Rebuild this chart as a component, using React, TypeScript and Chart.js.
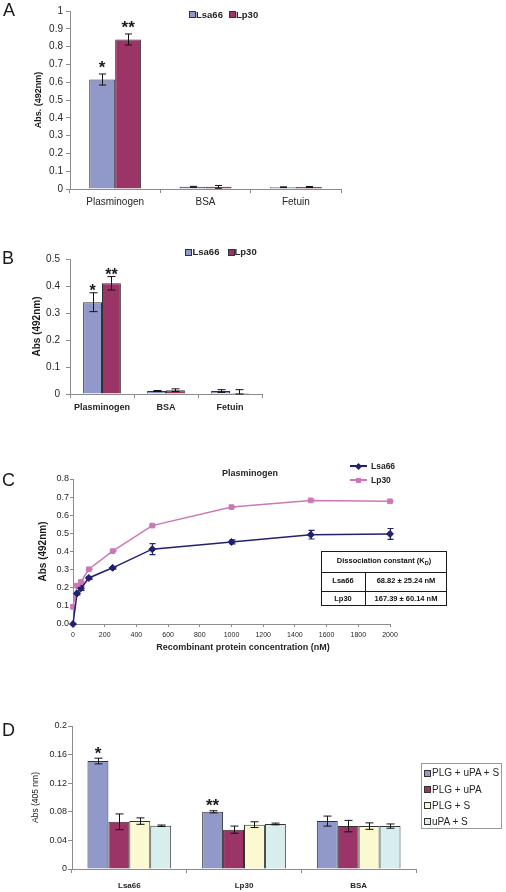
import React, { useEffect, useRef } from 'react';
import { Chart, registerables } from 'chart.js';

Chart.register(...registerables);

const FONT = "'Liberation Sans', Arial, Helvetica, sans-serif";
const W = 506;
const AXIS = '#8c8c8c';
const TEXT = '#262626';

// ---------------- Panel A ----------------
const categoriesA = ['Plasminogen', 'BSA', 'Fetuin'];
const lsa66A = [0.615, 0.012, 0.010];
const lsa66ErrA = [0.031, 0.003, 0.002];
const lp30A = [0.84, 0.012, 0.011];
const lp30ErrA = [0.031, 0.008, 0.003];
const lsa66StarsA = ['*', '', ''];
const lp30StarsA = ['**', '', ''];

// ---------------- Panel B ----------------
const categoriesB = ['Plasminogen', 'BSA', 'Fetuin'];
const lsa66B = [0.34, 0.011, 0.011];
const lsa66ErrB = [0.035, 0.002, 0.005];
const lp30B = [0.41, 0.014, 0.004];
const lp30ErrB = [0.025, 0.005, 0.012];
const lsa66StarsB = ['*', '', ''];
const lp30StarsB = ['**', '', ''];

// ---------------- Panel C ----------------
const concentrationsC = [0, 25, 50, 100, 250, 500, 1000, 1500, 2000];
const lsa66C = [0, 0.168, 0.197, 0.254, 0.31, 0.413, 0.453, 0.493, 0.497];
const lsa66ErrC = [0, 0.008, 0.012, 0.008, 0.007, 0.03, 0.011, 0.024, 0.03];
const lp30C = [0.095, 0.212, 0.232, 0.302, 0.402, 0.543, 0.645, 0.682, 0.677];
const lp30ErrC = [0, 0.003, 0.003, 0.003, 0.003, 0.003, 0.003, 0.003, 0.003];
const kdNames = ['Lsa66', 'Lp30'];
const kdValues = ['68.82 \u00b1 25.24 nM', '167.39 \u00b1 60.14 nM'];

// ---------------- Panel D ----------------
const categoriesD = ['Lsa66', 'Lp30', 'BSA'];
const seriesNamesD = ['PLG + uPA + S', 'PLG + uPA', 'PLG + S', 'uPA + S'];
const plgUpaSD = [0.151, 0.080, 0.067];
const plgUpaSErrD = [0.004, 0.0015, 0.007];
const plgUpaD = [0.066, 0.055, 0.060];
const plgUpaErrD = [0.011, 0.005, 0.008];
const plgSD = [0.067, 0.062, 0.060];
const plgSErrD = [0.0045, 0.004, 0.0045];
const upaSD = [0.0605, 0.063, 0.060];
const upaSErrD = [0.001, 0.0012, 0.003];
const starsD = ['*', '**', ''];

const LSA_BLUE = '#9099CA';
const LP_PLUM = '#9B3467';
const D_YELLOW = '#FBF9CF';
const D_CYAN = '#D8EDEE';
const NAVY = '#23206E';
const PINK = '#CC78B8';
const BAR_BORDER = '#333333';

const errorBarPlugin = {
  id: 'errorBars',
  afterDatasetsDraw(chart: any, _args: any, opts: any) {
    const { ctx, chartArea } = chart;
    const yScale = chart.scales.y;
    ctx.save();
    chart.data.datasets.forEach((ds: any, i: number) => {
      const meta = chart.getDatasetMeta(i);
      if (meta.hidden) return;
      const errs: number[] | undefined = ds.errors;
      const stars: string[] | undefined = ds.stars;
      meta.data.forEach((el: any, j: number) => {
        const raw = ds.data[j];
        const v = typeof raw === 'number' ? raw : raw.y;
        const e = errs ? errs[j] || 0 : 0;
        const x = Math.round(el.x) + 0.5;
        const yTop = yScale.getPixelForValue(v + e);
        if (e > 0) {
          const yBot = Math.min(yScale.getPixelForValue(v - e), chartArea.bottom);
          const cap = opts.cap || 3;
          ctx.strokeStyle = ds.errorColor || opts.color || '#111';
          ctx.lineWidth = opts.lineWidth || 1;
          ctx.beginPath();
          ctx.moveTo(x, yTop);
          ctx.lineTo(x, yBot);
          ctx.moveTo(x - cap, yTop);
          ctx.lineTo(x + cap, yTop);
          ctx.moveTo(x - cap, yBot);
          ctx.lineTo(x + cap, yBot);
          ctx.stroke();
        }
        const s = stars && stars[j];
        if (s) {
          const size = opts.starSize || 16;
          ctx.fillStyle = '#1a1a1a';
          ctx.font = `bold ${size}px ${FONT}`;
          ctx.textAlign = 'center';
          ctx.textBaseline = 'alphabetic';
          ctx.fillText(s, el.x, yTop - (opts.starGap || 8) + 0.57 * size);
        }
      });
    });
    ctx.restore();
  },
};

type Area = { left: number; right: number; top: number; bottom: number };

function barConfig(p: {
  labels: string[];
  datasets: any[];
  canvasH: number;
  area: Area;
  yMax: number;
  yStep: number;
  yFmt: (v: number) => string;
  yTickSize: number;
  yTickPad: number;
  yTickLen: number;
  yTitle: string;
  yTitleSize: number;
  yTitleBold: boolean;
  yTitleCenterX: number;
  xTickSize: number;
  xTickBold: boolean;
  xTickPad: number;
  catPct: number;
  cap: number;
  starSize: number;
  starGap: number;
}) {
  const { area } = p;
  const lh = p.yTitleSize * 1.2;
  return {
    type: 'bar',
    data: {
      labels: p.labels,
      datasets: p.datasets.map((d) => ({
        ...d,
        borderColor: BAR_BORDER,
        borderWidth: 1,
        barPercentage: 1,
        categoryPercentage: p.catPct,
      })),
    },
    plugins: [errorBarPlugin],
    options: {
      responsive: false,
      animation: false,
      devicePixelRatio: 1,
      layout: { padding: { left: 0, top: area.top, right: W - area.right, bottom: 0 } },
      plugins: {
        legend: { display: false },
        tooltip: { enabled: false },
        errorBars: { cap: p.cap, starSize: p.starSize, starGap: p.starGap, color: '#111', lineWidth: 1 },
      },
      scales: {
        x: {
          type: 'category',
          offset: true,
          grid: { offset: true, drawOnChartArea: false, drawTicks: true, tickLength: 4, color: AXIS },
          border: { color: AXIS, width: 1 },
          ticks: {
            font: { family: FONT, size: p.xTickSize, weight: p.xTickBold ? 'bold' : 'normal' },
            color: TEXT,
            padding: p.xTickPad,
            maxRotation: 0,
            autoSkip: false,
          },
          afterFit: (s: any) => {
            s.height = p.canvasH - area.bottom;
          },
        },
        y: {
          type: 'linear',
          min: 0,
          max: p.yMax,
          grid: { drawOnChartArea: false, drawTicks: true, tickLength: p.yTickLen, color: AXIS },
          border: { color: AXIS, width: 1 },
          ticks: {
            stepSize: p.yStep,
            autoSkip: false,
            callback: (v: any) => p.yFmt(Number(v)),
            font: { family: FONT, size: p.yTickSize },
            color: TEXT,
            padding: p.yTickPad,
          },
          title: {
            display: true,
            text: p.yTitle,
            color: '#1a1a1a',
            font: { family: FONT, size: p.yTitleSize, weight: p.yTitleBold ? 'bold' : 'normal' },
            padding: { top: p.yTitleCenterX - lh / 2, bottom: 0 },
          },
          afterFit: (s: any) => {
            s.width = area.left;
          },
        },
      },
    },
  };
}

function lineConfigC() {
  const canvasH = 215;
  const area: Area = { left: 73, right: 390, top: 24, bottom: 169 };
  const titleSize = 10;
  return {
    type: 'line',
    data: {
      datasets: [
        {
          label: 'Lsa66',
          data: concentrationsC.map((c, i) => ({ x: c, y: lsa66C[i] })),
          errors: lsa66ErrC,
          errorColor: NAVY,
          borderColor: NAVY,
          backgroundColor: NAVY,
          borderWidth: 1.5,
          pointStyle: 'rectRot',
          pointRadius: 3.5,
          pointBorderWidth: 1,
          tension: 0,
          clip: false,
        },
        {
          label: 'Lp30',
          data: concentrationsC.map((c, i) => ({ x: c, y: lp30C[i] })),
          errors: lp30ErrC,
          errorColor: PINK,
          borderColor: PINK,
          backgroundColor: PINK,
          borderWidth: 1.5,
          pointStyle: 'rect',
          pointRadius: 3.3,
          pointBorderWidth: 1,
          tension: 0,
          clip: false,
        },
      ],
    },
    plugins: [errorBarPlugin],
    options: {
      responsive: false,
      animation: false,
      devicePixelRatio: 1,
      layout: { padding: { left: 0, top: area.top, right: W - area.right, bottom: 0 } },
      plugins: {
        legend: { display: false },
        tooltip: { enabled: false },
        errorBars: { cap: 3, starSize: 14, starGap: 8, lineWidth: 1.2 },
      },
      scales: {
        x: {
          type: 'linear',
          min: 0,
          max: 2000,
          grid: { drawOnChartArea: false, drawTicks: true, tickLength: 3, color: AXIS },
          border: { color: AXIS, width: 1 },
          ticks: {
            stepSize: 200,
            autoSkip: false,
            maxRotation: 0,
            callback: (v: any) => String(Math.round(Number(v))),
            font: { family: FONT, size: 7 },
            color: TEXT,
            padding: 3.8,
          },
          afterFit: (s: any) => {
            s.height = canvasH - area.bottom;
          },
        },
        y: {
          type: 'linear',
          min: 0,
          max: 0.8,
          grid: { drawOnChartArea: false, drawTicks: true, tickLength: 3, color: AXIS },
          border: { color: AXIS, width: 1 },
          ticks: {
            stepSize: 0.1,
            autoSkip: false,
            callback: (v: any) => Number(v).toFixed(1),
            font: { family: FONT, size: 9 },
            color: TEXT,
            padding: 1,
          },
          title: {
            display: true,
            text: 'Abs (492nm)',
            color: '#1a1a1a',
            font: { family: FONT, size: titleSize, weight: 'bold' },
            padding: { top: 43 - (titleSize * 1.2) / 2, bottom: 0 },
          },
          afterFit: (s: any) => {
            s.width = area.left;
          },
        },
      },
    },
  };
}

function useChart(build: () => any) {
  const ref = useRef<HTMLCanvasElement>(null);
  useEffect(() => {
    if (!ref.current) return;
    const chart = new Chart(ref.current, build() as any);
    return () => chart.destroy();
  }, []);
  return ref;
}

function Txt(props: {
  x: number;
  y: number;
  size: number;
  bold?: boolean;
  align?: 'left' | 'center' | 'right';
  color?: string;
  children: React.ReactNode;
}) {
  const { x, y, size, bold, align = 'left', color = TEXT } = props;
  const style: React.CSSProperties = {
    position: 'absolute',
    top: y - size / 2,
    height: size,
    lineHeight: `${size}px`,
    fontSize: size,
    fontFamily: FONT,
    fontWeight: bold ? 'bold' : 'normal',
    color,
    whiteSpace: 'nowrap',
    left: x,
  };
  if (align === 'center') style.transform = 'translateX(-50%)';
  if (align === 'right') style.transform = 'translateX(-100%)';
  return <div style={style}>{props.children}</div>;
}

function Swatch(props: { x: number; y: number; s: number; color: string }) {
  return (
    <div
      style={{
        position: 'absolute',
        left: props.x,
        top: props.y - props.s / 2,
        width: props.s,
        height: props.s,
        background: props.color,
        border: '1px solid #333',
        boxSizing: 'border-box',
      }}
    />
  );
}

function Box(props: { x: number; y: number; w: number; h: number; bg: string; rot?: number }) {
  return (
    <div
      style={{
        position: 'absolute',
        left: props.x,
        top: props.y,
        width: props.w,
        height: props.h,
        background: props.bg,
        transform: props.rot ? `rotate(${props.rot}deg)` : undefined,
      }}
    />
  );
}

export default function App() {
  const refA = useChart(() =>
    barConfig({
      labels: categoriesA,
      datasets: [
        { label: 'Lsa66', data: lsa66A, errors: lsa66ErrA, stars: lsa66StarsA, backgroundColor: LSA_BLUE },
        { label: 'Lp30', data: lp30A, errors: lp30ErrA, stars: lp30StarsA, backgroundColor: LP_PLUM },
      ],
      canvasH: 215,
      area: { left: 70, right: 341, top: 11, bottom: 189 },
      yMax: 1,
      yStep: 0.1,
      yFmt: (v) => String(+v.toFixed(1)),
      yTickSize: 10,
      yTickPad: 3,
      yTickLen: 4,
      yTitle: 'Abs. (492nm)',
      yTitleSize: 9,
      yTitleBold: true,
      yTitleCenterX: 39,
      xTickSize: 10,
      xTickBold: false,
      xTickPad: 3,
      catPct: 0.575,
      cap: 3.5,
      starSize: 17,
      starGap: 11,
    })
  );
  const refB = useChart(() =>
    barConfig({
      labels: categoriesB,
      datasets: [
        { label: 'Lsa66', data: lsa66B, errors: lsa66ErrB, stars: lsa66StarsB, backgroundColor: LSA_BLUE },
        { label: 'Lp30', data: lp30B, errors: lp30ErrB, stars: lp30StarsB, backgroundColor: LP_PLUM },
      ],
      canvasH: 200,
      area: { left: 70, right: 262, top: 44, bottom: 179 },
      yMax: 0.5,
      yStep: 0.1,
      yFmt: (v) => String(+v.toFixed(1)),
      yTickSize: 10,
      yTickPad: 6,
      yTickLen: 4,
      yTitle: 'Abs (492nm)',
      yTitleSize: 10,
      yTitleBold: true,
      yTitleCenterX: 37,
      xTickSize: 9,
      xTickBold: true,
      xTickPad: 4.6,
      catPct: 0.59,
      cap: 4,
      starSize: 16,
      starGap: 6,
    })
  );
  const refC = useChart(() => lineConfigC());
  const refD = useChart(() =>
    barConfig({
      labels: categoriesD,
      datasets: [
        { label: seriesNamesD[0], data: plgUpaSD, errors: plgUpaSErrD, stars: starsD, backgroundColor: LSA_BLUE },
        { label: seriesNamesD[1], data: plgUpaD, errors: plgUpaErrD, backgroundColor: LP_PLUM },
        { label: seriesNamesD[2], data: plgSD, errors: plgSErrD, backgroundColor: D_YELLOW },
        { label: seriesNamesD[3], data: upaSD, errors: upaSErrD, backgroundColor: D_CYAN },
      ],
      canvasH: 187,
      area: { left: 72, right: 416, top: 21, bottom: 164 },
      yMax: 0.2,
      yStep: 0.04,
      yFmt: (v) => String(+v.toFixed(2)),
      yTickSize: 9,
      yTickPad: 1,
      yTickLen: 4,
      yTitle: 'Abs (405 nm)',
      yTitleSize: 8.5,
      yTitleBold: false,
      yTitleCenterX: 36,
      xTickSize: 8,
      xTickBold: true,
      xTickPad: 8,
      catPct: 0.73,
      cap: 4,
      starSize: 17,
      starGap: 9,
    })
  );

  const dColors = [LSA_BLUE, LP_PLUM, D_YELLOW, D_CYAN];
  const dLegendY = [773, 789.5, 805.5, 821.5];

  return (
    <div
      style={{
        position: 'absolute',
        left: 0,
        top: 0,
        width: W,
        height: 892,
        background: '#fff',
        overflow: 'hidden',
        fontFamily: FONT,
      }}
    >
      <canvas ref={refA} width={W} height={215} style={{ position: 'absolute', left: 0, top: 0 }} />
      <canvas ref={refB} width={W} height={200} style={{ position: 'absolute', left: 0, top: 215 }} />
      <canvas ref={refC} width={W} height={215} style={{ position: 'absolute', left: 0, top: 455 }} />
      <canvas ref={refD} width={W} height={187} style={{ position: 'absolute', left: 0, top: 705 }} />

      {/* panel letters */}
      <Txt x={3} y={9.5} size={18} color="#1a1a1a">A</Txt>
      <Txt x={2} y={257.5} size={18} color="#1a1a1a">B</Txt>
      <Txt x={2} y={480} size={18} color="#1a1a1a">C</Txt>
      <Txt x={2} y={730} size={18} color="#1a1a1a">D</Txt>

      {/* legend A */}
      <Swatch x={188.5} y={14.5} s={7} color={LSA_BLUE} />
      <Txt x={196} y={14.5} size={9.5} bold>Lsa66</Txt>
      <Swatch x={228.5} y={14.5} s={7} color={LP_PLUM} />
      <Txt x={236} y={14.5} size={9.5} bold>Lp30</Txt>

      {/* legend B */}
      <Swatch x={185} y={252.2} s={7} color={LSA_BLUE} />
      <Txt x={192.5} y={252.2} size={9.5} bold>Lsa66</Txt>
      <Swatch x={228} y={252.2} s={7} color={LP_PLUM} />
      <Txt x={234.5} y={252.2} size={9.5} bold>Lp30</Txt>

      {/* panel C texts */}
      <Txt x={250} y={473} size={9} bold align="center">Plasminogen</Txt>
      <Txt x={243} y={647.5} size={9} bold align="center">
        Recombinant protein concentration (nM)
      </Txt>
      {/* legend C */}
      <Box x={350} y={465.25} w={17} h={1.5} bg={NAVY} />
      <Box x={356} y={463.5} w={5} h={5} bg={NAVY} rot={45} />
      <Txt x={371} y={466} size={8.5} bold>Lsa66</Txt>
      <Box x={350} y={479.25} w={17} h={1.5} bg={PINK} />
      <Box x={356} y={477.5} w={5} h={5} bg={PINK} />
      <Txt x={371} y={480} size={8.5} bold>Lp30</Txt>

      {/* Kd table */}
      <div
        style={{
          position: 'absolute',
          left: 321,
          top: 551,
          width: 126,
          height: 55,
          border: '1.5px solid #1a1a1a',
          boxSizing: 'border-box',
        }}
      />
      <Box x={321} y={571.5} w={126} h={1} bg="#1a1a1a" />
      <Box x={321} y={590.5} w={126} h={1} bg="#1a1a1a" />
      <Box x={364.5} y={572} w={1} h={34} bg="#1a1a1a" />
      <Txt x={384} y={561} size={7.5} bold align="center" color="#111">
        Dissociation constant (K<sub style={{ fontSize: 5.5, verticalAlign: -2 }}>D</sub>)
      </Txt>
      <Txt x={343} y={581} size={7.5} bold align="center" color="#111">{kdNames[0]}</Txt>
      <Txt x={406} y={581} size={7.5} bold align="center" color="#111">{kdValues[0]}</Txt>
      <Txt x={343} y={598.5} size={7.5} bold align="center" color="#111">{kdNames[1]}</Txt>
      <Txt x={406} y={598.5} size={7.5} bold align="center" color="#111">{kdValues[1]}</Txt>

      {/* legend D */}
      <div
        style={{
          position: 'absolute',
          left: 421,
          top: 763,
          width: 81,
          height: 66,
          border: '1px solid #9a9a9a',
          boxSizing: 'border-box',
        }}
      />
      {seriesNamesD.map((n, i) => (
        <React.Fragment key={n}>
          <Swatch x={424} y={dLegendY[i]} s={7} color={dColors[i]} />
          <Txt x={432} y={dLegendY[i]} size={10}>{n}</Txt>
        </React.Fragment>
      ))}
    </div>
  );
}
